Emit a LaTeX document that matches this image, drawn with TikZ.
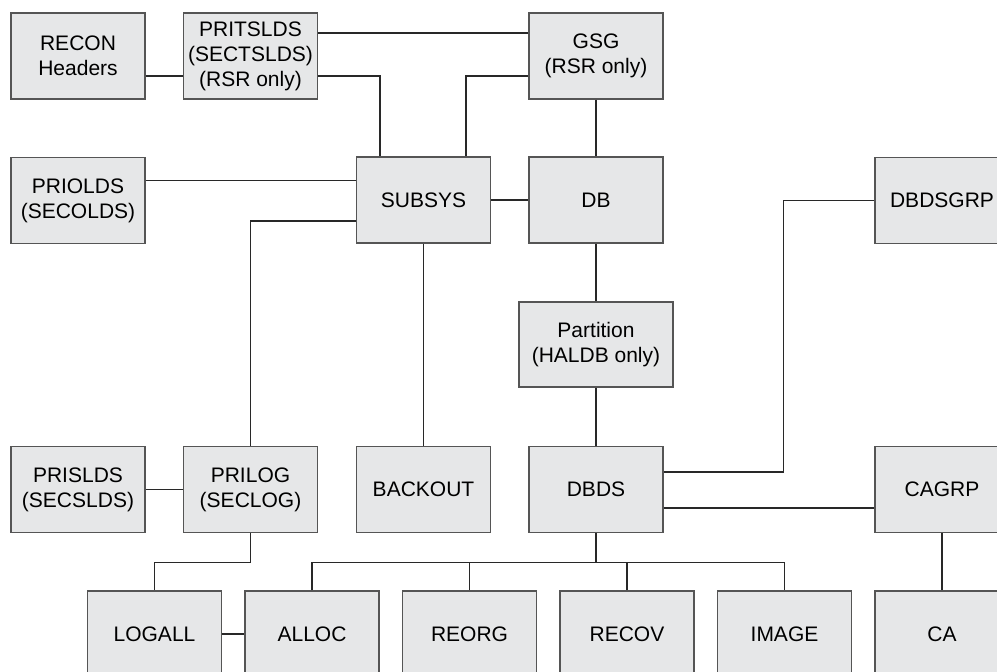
\documentclass[tikz,border=0pt]{standalone}
\usepackage{fontspec}
\setmainfont{Liberation Sans}
\usepackage{tikz}
\usetikzlibrary{positioning,calc}
\definecolor{boxfill}{RGB}{230,231,232}
\definecolor{boxline}{RGB}{85,85,85}
\definecolor{linkC}{RGB}{40,40,40}
\tikzset{
  rec/.style={rectangle, draw=boxline, fill=boxfill, line width=0.7pt,
              minimum width=67pt, minimum height=43pt, inner sep=0pt,
              align=center, font=\fontsize{10.5}{12.5}\selectfont},
  widerec/.style={rec, minimum width=77pt, minimum height=42.5pt},
  link/.style={draw=linkC, line width=0.6pt},
}

\begin{document}
\begin{tikzpicture}[x=0.5pt,y=-0.5pt]
  \path[use as bounding box, clip] (0,0) rectangle (997,671);

  % top rows
  \node[rec] (recon) at (78,56) {RECON\\Headers};
  \node[rec] (pritslds) at (250.5,56) {PRITSLDS\\(SECTSLDS)\\(RSR only)};
  \node[rec] (gsg) at (596,56) {GSG\\(RSR only)};
  \node[rec] (priolds) at (78,200.5) {PRIOLDS\\(SECOLDS)};
  \node[rec] (subsys) at (423.5,200) {SUBSYS};
  \node[rec] (db) at (596,200) {DB};
  \node[rec] (dbdsgrp) at (942,200.5) {DBDSGRP};
  \node[widerec] (partition) at (596,344.5) {Partition\\(HALDB only)};

  % lower rows
  \node[rec] (prislds) at (78,489.5) {PRISLDS\\(SECSLDS)};
  \node[rec] (prilog) at (250.5,489.5) {PRILOG\\(SECLOG)};
  \node[rec] (backout) at (423.5,489.5) {BACKOUT};
  \node[rec] (dbds) at (596,489.5) {DBDS};
  \node[rec] (cagrp) at (942,489.5) {CAGRP};
  \node[rec] (logall) at (154.5,634) {LOGALL};
  \node[rec] (alloc) at (312,634) {ALLOC};
  \node[rec] (reorg) at (469.5,634) {REORG};
  \node[rec] (recov) at (627,634) {RECOV};
  \node[rec] (image) at (784.5,634) {IMAGE};
  \node[rec] (ca) at (942,634) {CA};

  % connectors
  \draw[link] ([yshift=-10pt]recon.east) -- ([yshift=-10pt]pritslds.west);
  \draw[link] ([yshift=11.5pt]pritslds.east) -- ([yshift=11.5pt]gsg.west);
  \draw[link] ([yshift=-10pt]pritslds.east) -| ([xshift=-21.75pt]subsys.north);
  \draw[link] ([yshift=-10pt]gsg.west) -| ([xshift=21.25pt]subsys.north);
  \draw[link] (gsg.south) -- (db.north);
  \draw[link] ([yshift=10pt]priolds.east) coordinate (p) -- (p -| subsys.west);
  \draw[link] (subsys.east) -- (db.west);
  \draw[link] ([yshift=-10.5pt]subsys.west) -| (prilog.north);
  \draw[link] (subsys.south) -- (backout.north);
  \draw[link] (db.south) -- (partition.north);
  \draw[link] (partition.south) -- (dbds.north);
  \draw[link] ([yshift=8.75pt]dbds.east) -- ++(60pt,0) |- (dbdsgrp.west);
  \draw[link] ([yshift=-9.25pt]dbds.east) -- ([yshift=-9.25pt]cagrp.west);
  \draw[link] (cagrp.south) -- (ca.north);
  \draw[link] (prislds.east) -- (prilog.west);
  \draw[link] (prilog.south) -- ++(0,-14.5pt) -| (logall.north);
  \draw[link] (logall.east) -- (alloc.west);
  \draw[link] (dbds.south) -- ++(0,-14.5pt) coordinate (bus);
  \draw[link] (alloc.north) |- (bus) -| (image.north);
  \foreach \n in {reorg,recov}
    \draw[link] (\n.north) -- (\n.north |- bus);
\end{tikzpicture}
\end{document}
